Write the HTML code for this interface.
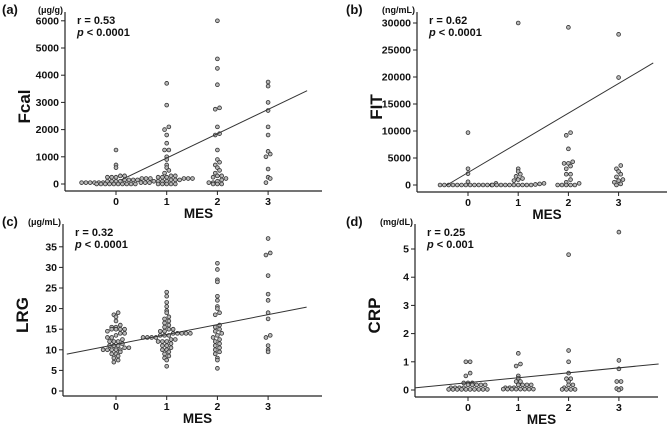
<!DOCTYPE html>
<html><head><meta charset="utf-8">
<style>
html,body{margin:0;padding:0;background:#fff;}
svg{display:block;font-family:"Liberation Sans",Arial,sans-serif;font-weight:bold;}
</style></head>
<body>
<svg id="fig" width="669" height="426" viewBox="0 0 669 426" xmlns="http://www.w3.org/2000/svg"></svg>
<script>
// ---- data ----
const categories = [0, 1, 2, 3];
// Panel a: Fcal (µg/g)
const fcal0 = [0,0,0,0,0,0,0,0,0,0,50,50,50,50,50,50,100,100,100,100,150,150,150,150,200,200,200,250,250,250,300,300,600,700,1250];
const fcal1 = [0,0,0,0,0,50,50,50,100,100,100,100,150,150,150,200,200,200,250,250,250,300,300,400,500,600,700,900,1000,1250,1250,1500,1800,2000,2100,2900,3700];
const fcal2 = [0,0,0,50,50,100,150,200,250,300,300,400,500,600,700,800,900,1250,1800,1850,2100,2750,2800,3650,4250,4600,6000];
const fcal3 = [50,200,250,550,1000,1100,1200,1800,2100,2700,3000,3600,3750];
const fcalTicks = [0,1000,2000,3000,4000,5000,6000];
const fcalFit = [60, 894]; // intercept, slope
// Panel b: FIT (ng/mL)
const fit0 = [0,0,0,0,0,0,0,0,0,0,0,0,0,300,600,2100,3000,9700];
const fit1 = [0,0,0,0,0,0,0,0,0,0,100,200,300,800,1000,1200,1600,2000,2500,3000,30000];
const fit2 = [0,0,0,0,0,300,500,1000,2000,2000,3000,3500,4000,4000,4300,6700,9200,9700,29200];
const fit3 = [0,200,500,800,1000,1500,2000,2500,3000,3600,19900,27900];
const fitTicks = [0,5000,10000,15000,20000,25000,30000];
const fitFit = [2300, 5500];
// Panel c: LRG (µg/mL)
const lrg0 = [7,7.5,8,8.5,9,9,9.5,10,10,10,10,10,10.5,10.5,11,11,11,11.5,12,12,12,12.5,13,13,13.5,14,14,14.5,15,15,15,15,15.5,15.5,16,17,18,18.5,19];
const lrg1 = [6,7.5,8,8.5,9,9.5,10,10,10.5,11,11,11.5,12,12,12,12.5,12.5,13,13,13,13,13.5,13.5,13.5,14,14,14,14,14,14.5,14.5,15,15,15.5,16,16.5,17,17.5,18,19,19.5,20.5,21.5,23,24];
const lrg2 = [5.5,7.5,8,9,9.5,10,10.5,11,11.5,12,12.5,13,13.5,14,14.5,15,15.5,16,18.5,19,20,20.5,22,23,26.5,27,29.5,31];
const lrg3 = [9.5,10,11,13,13.5,17.5,19,22,23.5,28,33,33.5,37];
const lrgTicks = [0,5,10,15,20,25,30,35];
const lrgFit = [11.3, 2.41];
// Panel d: CRP (mg/dL)
const crp0 = [0.02,0.02,0.02,0.02,0.02,0.02,0.02,0.02,0.02,0.02,0.08,0.08,0.08,0.08,0.18,0.18,0.18,0.18,0.18,0.25,0.25,0.25,0.5,0.6,1.0,1.0];
const crp1 = [0.03,0.03,0.03,0.03,0.03,0.03,0.03,0.03,0.08,0.08,0.08,0.18,0.18,0.18,0.18,0.3,0.3,0.42,0.5,0.85,0.92,1.3];
const crp2 = [0.02,0.02,0.02,0.02,0.08,0.18,0.18,0.3,0.4,0.4,0.6,1.0,1.4,4.8];
const crp3 = [0.0,0.05,0.05,0.3,0.3,0.75,1.05,5.6];
const crpTicks = [0,1,2,3,4,5];
const crpFit = [0.26, 0.175];

const NS = "http://www.w3.org/2000/svg";
const svg = document.getElementById("fig");
function mk(tag, attrs, parent, text){
  const e = document.createElementNS(NS, tag);
  for (const k in attrs) e.setAttribute(k, attrs[k]);
  if (text !== undefined) e.textContent = text;
  (parent || svg).appendChild(e);
  return e;
}

function panel(cfg){
  const g = mk("g", {});
  
  
  const xs = m => cfg.x0 + m * cfg.dx;
  const ys = v => cfg.yZero - (v - cfg.ticks[0]) * cfg.pxPerUnit;
  const ya = mk("line", {x1:cfg.axX, y1:cfg.axTop, x2:cfg.axX, y2:cfg.axY, stroke:"#222", "stroke-width":1.2}, g);
  
  
  const xa = mk("line", {x1:cfg.axX, y1:cfg.axY, x2:cfg.axRight, y2:cfg.axY, stroke:"#222", "stroke-width":1.2}, g);
  
  
  cfg.ticks.forEach(t => {
    const y = ys(t);
    mk("line", {x1:cfg.axX-4, y1:y, x2:cfg.axX, y2:y, stroke:"#222", "stroke-width":1}, g);
    const tl = mk("text", {x:cfg.axX-6, y:y+3.5, "text-anchor":"end", "font-size":10.5, fill:"#111"}, g, String(t));
    
    
  });
  categories.forEach(c => {
    const x = xs(c);
    mk("line", {x1:x, y1:cfg.axY, x2:x, y2:cfg.axY+4, stroke:"#222", "stroke-width":1}, g);
    const tl = mk("text", {x:x, y:cfg.axY+14, "text-anchor":"middle", "font-size":10.5, fill:"#111"}, g, String(c));
    
    
  });
  const xt = mk("text", {x:(cfg.axX+cfg.axRight)/2+5, y:cfg.axY+27, "text-anchor":"middle", "font-size":13.5, fill:"#111"}, g, "MES");
  
  
  const ytx = cfg.axX-35, yty = (cfg.axTop+cfg.axY)/2+5;
  const yt = mk("text", {x:ytx, y:yty, "text-anchor":"middle", "font-size":17, fill:"#111", transform:`rotate(-90 ${ytx} ${yty})`}, g, cfg.title);
  
  
  const un = mk("text", {x:cfg.axX-2, y:cfg.axTop+1, "text-anchor":"end", "font-size":9, fill:"#111"}, g, cfg.unit);
  
  
  const pl = mk("text", {x:cfg.lblX, y:cfg.lblY, "font-size":13, fill:"#111"}, g, cfg.label);
  
  
  const r = mk("text", {x:cfg.axX+12, y:cfg.axTop+12, "font-size":11, fill:"#111"}, g, cfg.r);
  
  
  const p = mk("text", {x:cfg.axX+12, y:cfg.axTop+24, "font-size":11, fill:"#111"}, g);
  
  
  mk("tspan", {"font-style":"italic"}, p, "p");
  mk("tspan", {}, p, " " + cfg.p);
  const d = 4.3;
  cfg.series.forEach((vals, ci) => {
    const cx = xs(categories[ci]);
    const bins = {};
    vals.forEach(v => {
      const py = ys(v);
      const b = Math.round(py / d);
      (bins[b] = bins[b] || []).push(py);
    });
    Object.keys(bins).forEach(b => {
      const arr = bins[b]; const n = arr.length;
      arr.forEach((py, i) => {
        const off = (i - (n - 1) / 2) * d;
        const c = mk("circle", {cx:cx+off, cy:py, r:1.9, fill:"#b8b8b8", stroke:"#333", "stroke-width":0.8}, g);
        
        
      });
    });
  });
  const [a, s] = cfg.fit;
  let m1 = cfg.fitFrom, m2 = cfg.fitTo;
  let v1 = a + s * m1;
  if (v1 < cfg.ticks[0]) { m1 = (cfg.ticks[0] - a) / s; v1 = cfg.ticks[0]; }
  const ln = mk("line", {x1:xs(m1), y1:ys(v1), x2:xs(m2), y2:ys(a + s*m2), stroke:"#333", "stroke-width":1}, g);
  
  
}

panel({name:"panel-a-fcal", label:"(a)", lblX:2, lblY:14, title:"Fcal", unit:"(μg/g)", r:"r = 0.53", p:"< 0.0001",
  axX:65, axTop:12, axY:191, axRight:322, x0:116, dx:50.7, yZero:184, pxPerUnit:0.0272,
  ticks:fcalTicks, series:[fcal0,fcal1,fcal2,fcal3], fit:fcalFit, fitFrom:0.1, fitTo:3.77});
panel({name:"panel-b-fit", label:"(b)", lblX:346, lblY:14, title:"FIT", unit:"(ng/mL)", r:"r = 0.62", p:"< 0.0001",
  axX:417, axTop:12, axY:192, axRight:667, x0:468, dx:50.2, yZero:185, pxPerUnit:0.0054,
  ticks:fitTicks, series:[fit0,fit1,fit2,fit3], fit:fitFit, fitFrom:-0.42, fitTo:3.69});
panel({name:"panel-c-lrg", label:"(c)", lblX:2, lblY:226, title:"LRG", unit:"(μg/mL)", r:"r = 0.32", p:"< 0.0001",
  axX:63, axTop:224, axY:396, axRight:322, x0:116, dx:50.7, yZero:391, pxPerUnit:4.12,
  ticks:lrgTicks, series:[lrg0,lrg1,lrg2,lrg3], fit:lrgFit, fitFrom:-0.97, fitTo:3.76});
panel({name:"panel-d-crp", label:"(d)", lblX:346, lblY:226, title:"CRP", unit:"(mg/dL)", r:"r = 0.25", p:"< 0.001",
  axX:415, axTop:224, axY:397, axRight:658, x0:468, dx:50.3, yZero:390, pxPerUnit:28.2,
  ticks:crpTicks, series:[crp0,crp1,crp2,crp3], fit:crpFit, fitFrom:-1.06, fitTo:3.79});
</script>
</body></html>
